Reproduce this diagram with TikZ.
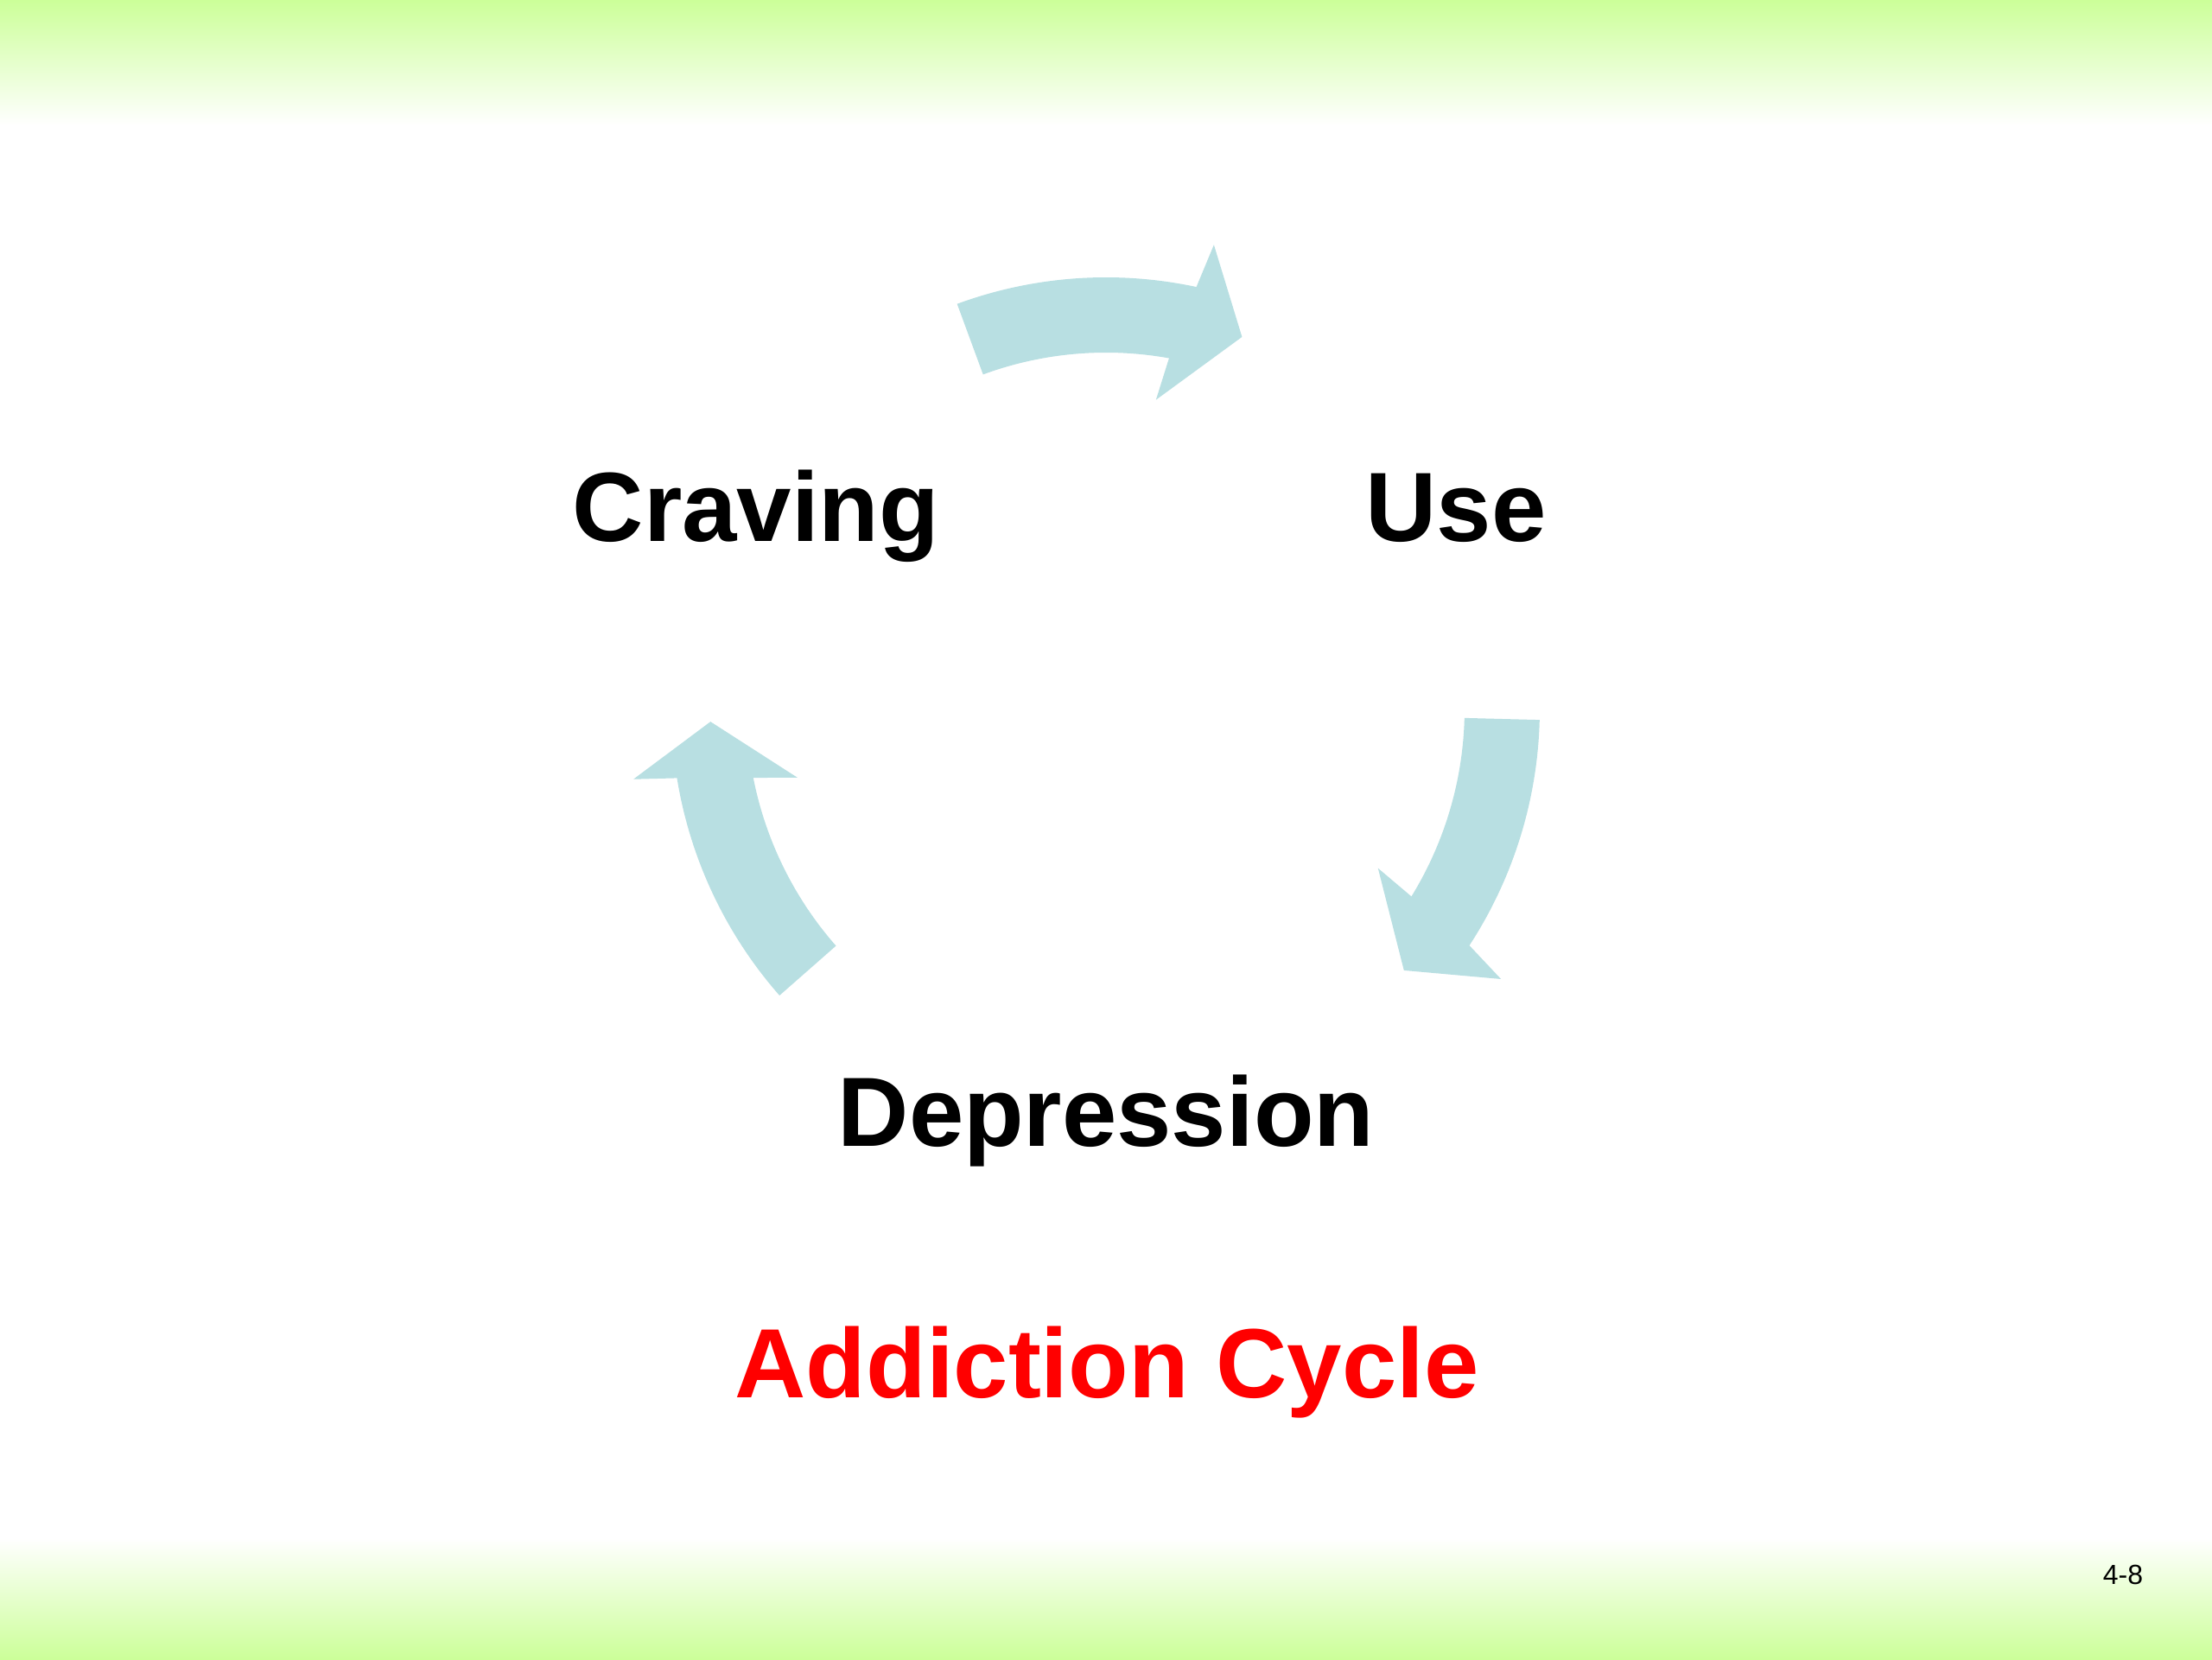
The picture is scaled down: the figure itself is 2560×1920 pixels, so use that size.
\documentclass[tikz,border=0pt]{standalone}
\usepackage{fontspec}
\setmainfont{Liberation Sans}
\definecolor{bandgreen}{RGB}{204,255,153}
\definecolor{arrowteal}{RGB}{184,223,226}
\definecolor{titlered}{RGB}{255,0,0}
\begin{document}
\begin{tikzpicture}[x=0.01cm,y=0.01cm,
  label/.style={font=\fontsize{32.4}{38}\selectfont\bfseries, inner sep=0pt, anchor=base},
  cyclearrow/.style={fill=arrowteal, draw=none}]
\useasboundingbox (0,0) rectangle (2560,1920);
\fill[white] (0,0) rectangle (2560,1920);
% gradient bands
\shade[top color=bandgreen, bottom color=white] (0,1920) rectangle (2560,1775);
\shade[top color=white, bottom color=bandgreen] (0,140) rectangle (2560,0);
% labels
\node[label] (craving) at (875,1293) {Craving};
\node[label] (use) at (1685,1293) {Use};
\node[label] (depression) at (1280,594) {Depression};
\node[label, text=titlered] (title) at (1281,303) {Addiction Cycle};
\node[font=\fontsize{9.1}{11}\selectfont, inner sep=0pt, anchor=base] (pagenum) at (2457,87) {4-8};
% cycle arrows
\coordinate (C) at (1280,1100);
\begin{scope}[shift={(C)}]
  % Craving -> Use
  \fill[cyclearrow] (110.2:499) arc[start angle=110.2, end angle=77.9, radius=499]
    -- (76.9:551) -- (69.9:458) -- (80.8:362) -- (79.8:412)
    arc[start angle=79.8, end angle=110.2, radius=412] -- cycle;
  % Use -> Depression
  \fill[cyclearrow] (-1.5:502) arc[start angle=-1.5, end angle=-33.1, radius=502]
    -- (-34.4:554) -- (-41.3:459) -- (-30.4:365) -- (-31.6:415)
    arc[start angle=-31.6, end angle=-1.5, radius=415] -- cycle;
  % Depression -> Craving
  \fill[cyclearrow] (221.3:503) arc[start angle=221.3, end angle=189.2, radius=503]
    -- (188.5:553) -- (181.9:458) -- (192.6:366) -- (191.1:416)
    arc[start angle=191.1, end angle=221.3, radius=416] -- cycle;
\end{scope}
\end{tikzpicture}
\end{document}
